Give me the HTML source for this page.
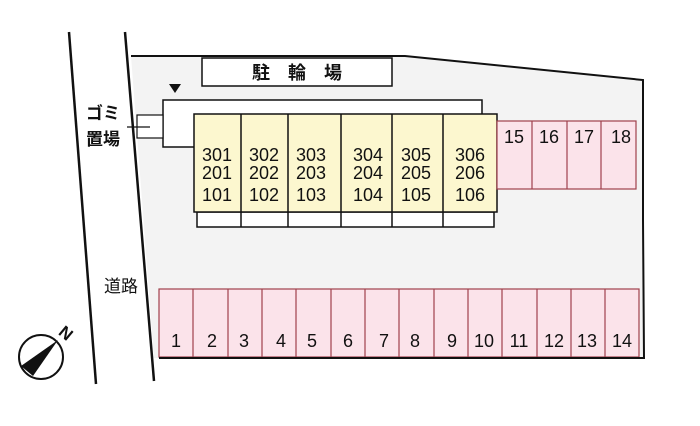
<!DOCTYPE html>
<html><head><meta charset="utf-8"><style>
html,body{margin:0;padding:0;background:#fff;}
svg text{font-family:"Liberation Sans","Noto Sans CJK JP",sans-serif;}
</style></head><body>
<svg width="700" height="421" viewBox="0 0 700 421" xmlns="http://www.w3.org/2000/svg">
<polygon points="131,56 405,56 643,80 644,358 154,358" fill="#f3f3f3"/>
<polyline points="131,56 405,56 643,80 643,220 644,358 159,358" fill="none" stroke="#111" stroke-width="2"/>
<line x1="69" y1="32" x2="96" y2="384" stroke="#111" stroke-width="2.5"/>
<line x1="125" y1="32" x2="154" y2="381" stroke="#111" stroke-width="2.5"/>
<rect x="202" y="58" width="190" height="28" fill="#fff" stroke="#111" stroke-width="1.5"/>
<text x="297" y="79" font-size="18" font-weight="bold" text-anchor="middle" fill="#111">駐　輪　場</text>
<polygon points="169,84 181,84 175,93" fill="#111"/>
<polyline points="194,147 163,147 163,100 482,100 482,114" fill="#fff" stroke="#111" stroke-width="1.5"/>
<rect x="137" y="115" width="26" height="23" fill="#fff" stroke="#111" stroke-width="1.2"/>
<line x1="127" y1="127" x2="150" y2="127" stroke="#111" stroke-width="1.2"/>
<text x="103" y="119" font-size="17" font-weight="bold" text-anchor="middle" fill="#111">ゴミ</text>
<text x="103" y="145" font-size="17" font-weight="bold" text-anchor="middle" fill="#111">置場</text>
<text x="121" y="292" font-size="17" text-anchor="middle" fill="#111">道路</text>
<g stroke="#111" stroke-width="1.5">
<rect x="197" y="212" width="297" height="15" fill="#fff"/>
<rect x="194" y="114" width="303" height="98" fill="#fcf7cf"/>
<line x1="241" y1="114" x2="241" y2="227"/><line x1="288" y1="114" x2="288" y2="227"/>
<line x1="341" y1="114" x2="341" y2="227"/><line x1="392" y1="114" x2="392" y2="227"/>
<line x1="443" y1="114" x2="443" y2="227"/>
</g>
<g font-size="18" fill="#111" text-anchor="middle">
<text x="217" y="161">301</text><text x="217" y="179">201</text><text x="217" y="201">101</text>
<text x="264" y="161">302</text><text x="264" y="179">202</text><text x="264" y="201">102</text>
<text x="311" y="161">303</text><text x="311" y="179">203</text><text x="311" y="201">103</text>
<text x="368" y="161">304</text><text x="368" y="179">204</text><text x="368" y="201">104</text>
<text x="416" y="161">305</text><text x="416" y="179">205</text><text x="416" y="201">105</text>
<text x="470" y="161">306</text><text x="470" y="179">206</text><text x="470" y="201">106</text>
</g>
<g stroke="#a0404c" stroke-width="1.2" fill="#fbe3ea">
<rect x="497" y="121" width="139" height="68"/>
<line x1="532" y1="121" x2="532" y2="189"/><line x1="567" y1="121" x2="567" y2="189"/><line x1="601" y1="121" x2="601" y2="189"/>
<rect x="159" y="289" width="480" height="68"/>
<line x1="193" y1="289" x2="193" y2="357"/><line x1="228" y1="289" x2="228" y2="357"/><line x1="262" y1="289" x2="262" y2="357"/>
<line x1="296" y1="289" x2="296" y2="357"/><line x1="331" y1="289" x2="331" y2="357"/><line x1="365" y1="289" x2="365" y2="357"/>
<line x1="399" y1="289" x2="399" y2="357"/><line x1="434" y1="289" x2="434" y2="357"/><line x1="468" y1="289" x2="468" y2="357"/>
<line x1="502" y1="289" x2="502" y2="357"/><line x1="537" y1="289" x2="537" y2="357"/><line x1="571" y1="289" x2="571" y2="357"/>
<line x1="605" y1="289" x2="605" y2="357"/>
</g>
<line x1="159" y1="358" x2="644" y2="358" stroke="#111" stroke-width="2"/>
<g font-size="18" fill="#111" text-anchor="middle">
<text x="514" y="143">15</text><text x="549" y="143">16</text><text x="584" y="143">17</text><text x="621" y="143">18</text>
<text x="176" y="347">1</text><text x="212" y="347">2</text><text x="244" y="347">3</text><text x="281" y="347">4</text>
<text x="312" y="347">5</text><text x="348" y="347">6</text><text x="384" y="347">7</text><text x="415" y="347">8</text>
<text x="452" y="347">9</text><text x="484" y="347">10</text><text x="519" y="347">11</text><text x="554" y="347">12</text>
<text x="587" y="347">13</text><text x="622" y="347">14</text>
</g>
<circle cx="41" cy="357" r="22" fill="#fff" stroke="#111" stroke-width="2"/>
<polygon points="21,366 33,376 58,340" fill="#111"/>
<text x="66" y="339" font-size="17" font-weight="bold" fill="#111" text-anchor="middle" transform="rotate(40 66 333)">N</text>
</svg>
</body></html>
